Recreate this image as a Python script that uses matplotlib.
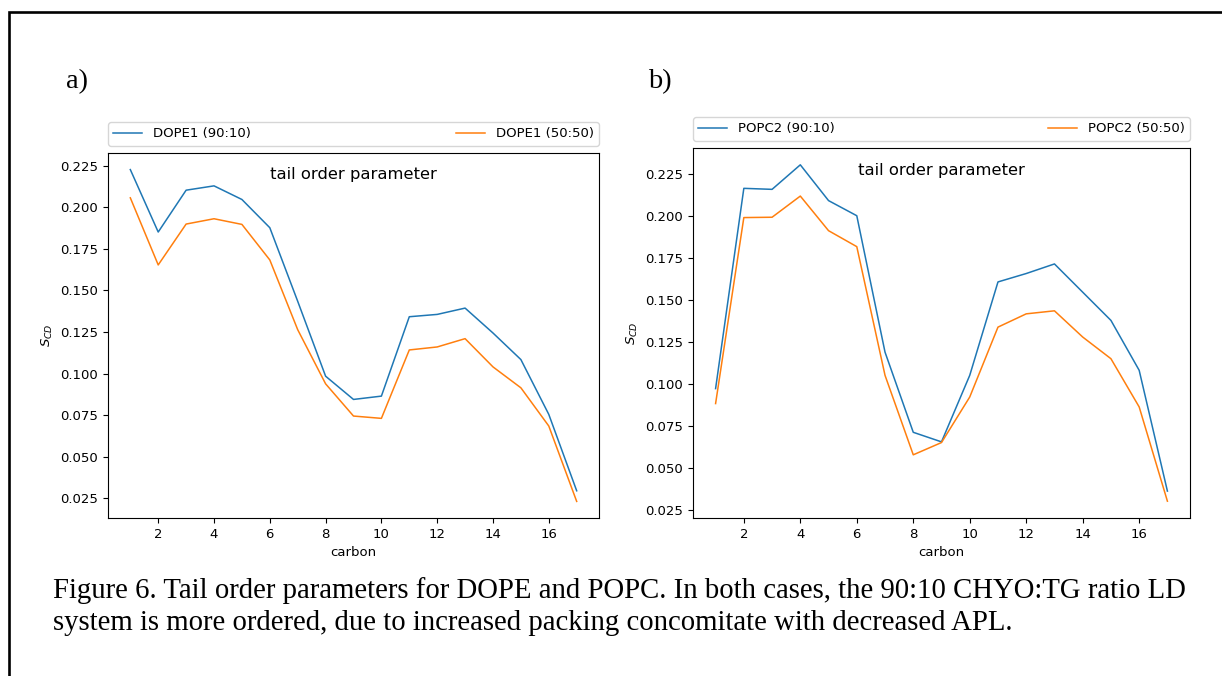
import matplotlib
matplotlib.use("Agg")
import matplotlib.pyplot as plt
from matplotlib.lines import Line2D

carbon = list(range(1, 18))

dope_9010 = [0.2228, 0.1852, 0.2104, 0.2130, 0.2048, 0.1878, 0.1435, 0.0984, 0.0844,
             0.0864, 0.1342, 0.1356, 0.1394, 0.1244, 0.1084, 0.0754, 0.0294]
dope_5050 = [0.2058, 0.1654, 0.1900, 0.1932, 0.1898, 0.1684, 0.1264, 0.0938, 0.0744,
             0.0730, 0.1142, 0.1160, 0.1210, 0.1040, 0.0914, 0.0684, 0.0230]

popc_9010 = [0.0973, 0.2165, 0.2159, 0.2305, 0.2092, 0.2002, 0.1190, 0.0713, 0.0656,
             0.1052, 0.1608, 0.1658, 0.1715, 0.1547, 0.1379, 0.1082, 0.0363]
popc_5050 = [0.0884, 0.1991, 0.1993, 0.2119, 0.1913, 0.1818, 0.1052, 0.0579, 0.0652,
             0.0923, 0.1339, 0.1418, 0.1436, 0.1280, 0.1151, 0.0864, 0.0303]

panels = [
    ("a)", ["DOPE1 (90:10)", "DOPE1 (50:50)"], dope_9010, dope_5050),
    ("b)", ["POPC2 (90:10)", "POPC2 (50:50)"], popc_9010, popc_5050),
]

caption = ("Figure 6. Tail order parameters for DOPE and POPC. In both cases, the 90:10 CHYO:TG ratio LD\n"
           "system is more ordered, due to increased packing concomitate with decreased APL.")

W, H = 1222, 676
fig = plt.figure(figsize=(W / 100, H / 100), dpi=100)

# axes boxes in pixels: left, top, right, bottom
boxes = [(108, 153, 599, 518), (693, 148, 1190, 518)]
letter_x = [66, 648]

for (letter, labels, s1, s2), (l, t, r, b), lx in zip(panels, boxes, letter_x):
    ax = fig.add_axes([l / W, 1 - b / H, (r - l) / W, (b - t) / H])
    ax.plot(carbon, s1, color="#1f77b4", lw=1.1, label=labels[0])
    ax.plot(carbon, s2, color="#ff7f0e", lw=1.1, label=labels[1])
    ax.legend(bbox_to_anchor=(0, 1.02, 1, 0.102), loc="lower left", ncol=2,
              mode="expand", borderaxespad=0, fontsize=9.5, handlelength=2.2)
    ax.text(0.5, 0.94, "tail order parameter", transform=ax.transAxes,
            ha="center", va="center", fontsize=11.8)
    ax.set_xlabel("carbon", fontsize=9.5, labelpad=4)
    ax.set_ylabel(r"$S_{CD}$", fontsize=9.5)
    ax.tick_params(labelsize=9.5, length=3.5, width=0.8)
    fig.text(lx / W, 1 - 82 / H, letter, family="Liberation Serif",
             fontsize=20.5, ha="left", va="center")

fig.text(53 / W, 1 - 577 / H, caption, family="Liberation Serif", fontsize=20.7,
         ha="left", va="top", linespacing=1.28)

# page frame, cut off at right and bottom
y_top = 1 - 11.5 / H
x_left = 8.5 / W
fig.add_artist(Line2D([x_left, x_left, 1], [0, y_top, y_top], transform=fig.transFigure,
                      color="black", lw=1.9, solid_joinstyle="miter"))

fig.savefig("out.png", dpi=100)
